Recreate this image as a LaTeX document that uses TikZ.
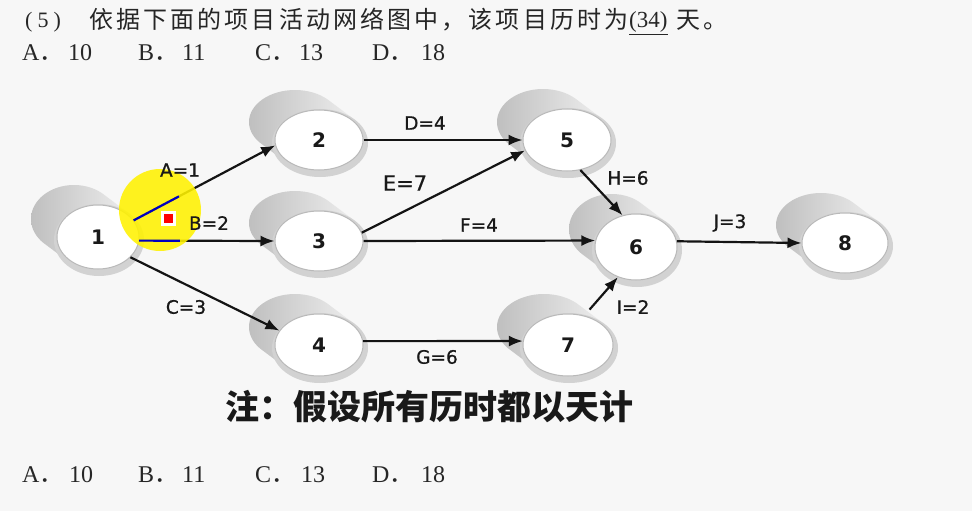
\documentclass[tikz,border=0pt]{standalone}
\usepackage{fontspec}
\setmainfont{Liberation Serif}
\newfontfamily\cjk{Noto Sans CJK SC}
\newfontfamily\cjksp[LetterSpace=13]{Noto Sans CJK SC}
\newfontfamily\lbl{DejaVu Sans}
\newfontfamily\lblb[FakeBold=0.7]{DejaVu Sans}
\usetikzlibrary{arrows.meta,calc,shapes.geometric}
\tikzset{
  evn/.style={ellipse, draw=gray!55, line width=1pt, fill=white, inner sep=0pt,
    font=\lbl\bfseries\fontsize{20}{20}\selectfont, text=black!90},
  arr/.style={line width=2.2pt, draw=black!92, -{Latex[length=14pt,width=11pt]}},
  hl/.style={line width=2.2pt, draw=blue!75!black},
  elbl/.style={font=\lblb\fontsize{18.5}{18.5}\selectfont, text=black!90, inner sep=0pt},
  opt/.style={anchor=base west, inner sep=0pt, font=\fontsize{24}{24}\selectfont, text=black!85},
  ttl/.style={anchor=base west, inner sep=0pt, text=black!85},
}
\newcommand\evnode[6]{%
  \shade[left color=gray!50, right color=gray!10]
    \foreach \t in {0,0.1,...,1.01}{ ({#2-24*(1-\t)},{#3-18*(1-\t)}) ellipse [x radius=#4pt+2pt, y radius=#5pt+2pt] };
  \fill[gray!35] ({#2+1},{#3+3}) ellipse [x radius=#4pt+4pt, y radius=#5pt+4pt];
  \node[evn, minimum width=#4pt*2, minimum height=#5pt*2] (#1) at (#2,#3) {#6};
}
\begin{document}
\begin{tikzpicture}[x=1pt,y=-1pt]
\useasboundingbox (0,0) rectangle (972,511);
\fill[black!3] (0,0) rectangle (972,511);

% title and options
\node[ttl, font=\fontsize{22}{22}\selectfont] (t0) at (25,28) {(\hspace{5pt}5\hspace{5pt})};
\node[ttl, font=\cjksp\fontsize{24}{24}\selectfont] (t1) at (89,29) {依据下面的项目活动网络图中，该项目历时为};
\node[ttl, font=\fontsize{23}{23}\selectfont] (t2) at (629,28) {\underline{(34)}};
\node[ttl, font=\cjksp\fontsize{24}{24}\selectfont] (t3) at (676,29) {天。};

\node[opt] (oa) at (22,60) {A{\cjk ．}};
\node[opt] (oa2) at (68,60) {10};
\node[opt] (ob) at (138,60) {B{\cjk ．}};
\node[opt] (ob2) at (182,60) {11};
\node[opt] (oc) at (255,60) {C{\cjk ．}};
\node[opt] (oc2) at (299,60) {13};
\node[opt] (od) at (372,60) {D{\cjk ．}};
\node[opt] (od2) at (421,60) {18};

\node[opt] (pa) at (22,482) {A{\cjk ．}};
\node[opt] (pa2) at (69,482) {10};
\node[opt] (pb) at (138,482) {B{\cjk ．}};
\node[opt] (pb2) at (182,482) {11};
\node[opt] (pc) at (255,482) {C{\cjk ．}};
\node[opt] (pc2) at (301,482) {13};
\node[opt] (pd) at (372,482) {D{\cjk ．}};
\node[opt] (pd2) at (421,482) {18};

% nodes
\evnode{n1}{98}{237}{41}{32}{1}
\evnode{n2}{319}{140}{44}{30}{2}
\evnode{n3}{319}{241}{44}{30}{3}
\evnode{n4}{319}{345}{44}{31}{4}
\evnode{n5}{567}{140}{44}{31}{5}
\evnode{n6}{636}{247}{41}{33}{6}
\evnode{n7}{568}{345}{45}{31}{7}
\evnode{n8}{845}{243}{43}{30}{8}

% edges
\draw[arr] (n1.25) -- (n2.187);
\draw[arr] (n1.-5) -- (n3.west);
\draw[arr] (n1.-32) -- (n4.160);
\draw[arr] (n2.east) -- (n5.west);
\draw[arr] (n3.11) -- (n5.194);
\draw[arr] (n3.east) -- (n6.171);
\draw[arr] (n5.-66) -- (n6.113);
\draw[arr] (n4.5) -- (n7.175);
\draw[arr, shorten <=8pt] (n7.61) -- (n6.239);
\draw[arr] (n6.8) -- (n8.west);

% cursor highlight
\fill[yellow, opacity=0.88] (160,210) circle[radius=41pt];
\coordinate (ha) at ($(n1.25)!0.32!(n2.187)$);
\coordinate (hb) at ($(n1.-5)!0.3!(n3.west)$);
\draw[hl] (n1.25) -- (ha);
\draw[hl] (n1.-5) -- (hb);

% edge labels
\node[elbl] (la) at (180,170) {A=1};
\node[elbl] (lb) at (209,223) {B=2};
\node[elbl] (lc) at (186,307) {C=3};
\node[elbl] (ld) at (425,123) {D=4};
\node[elbl, font=\lblb\fontsize{21}{21}\selectfont] (le) at (405,183) {E=7};
\node[elbl] (lf) at (479,225) {F=4};
\node[elbl] (lh) at (628,178) {H=6};
\node[elbl] (lj) at (730,223) {J=3};
\node[elbl] (lg) at (437,357) {G=6};
\node[elbl] (li) at (633,307) {I=2};

% note
\node[inner sep=0pt, text=black!90, font=\cjk\bfseries\fontsize{34}{34}\selectfont] (note) at (429,407) {注：假设所有历时都以天计};

\node[fill=red, draw=white, line width=3pt, minimum size=12pt, inner sep=0pt] (cur) at (168,218) {};
\end{tikzpicture}
\end{document}
